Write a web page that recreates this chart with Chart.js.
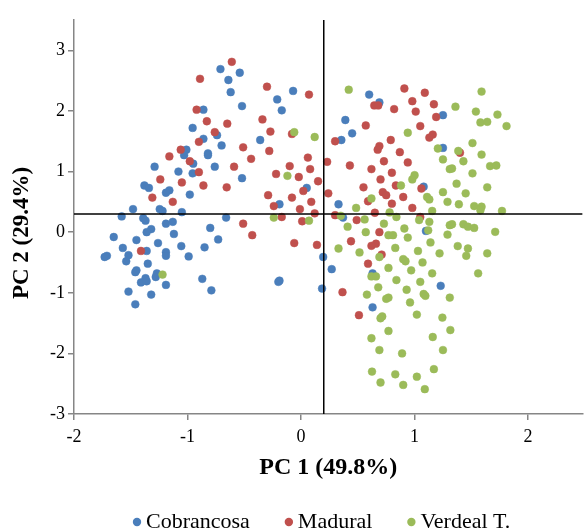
<!DOCTYPE html>
<html><head><meta charset="utf-8">
<script src="https://cdn.jsdelivr.net/npm/chart.js@4/dist/chart.umd.min.js"></script>
<style>html,body{margin:0;padding:0;background:#fff;overflow:hidden}</style>
</head><body>
<canvas id="c" width="587" height="530"></canvas>
<script>
const seriesNames = ['Cobrancosa', 'Madural', 'Verdeal T.'];
const seriesColors = ['#4A7EBB', '#C0504D', '#9BBB59'];
const xTickValues = [-2, -1, 0, 1, 2];
const yTickValues = [-3, -2, -1, 0, 1, 2, 3];
const xAxisTitle = 'PC 1 (49.8%)';
const yAxisTitle = 'PC 2 (29.4%)';
const refLineX = 0.2;
const refLineY = 0.3;

const cobrancosa = [
  [-0.955,1.72],[-1.01,1.36],[-1.03,1.27],[-0.71,2.69],[-0.54,2.63],[-0.64,2.51],[-0.62,2.31],
  [-0.07,2.33],[-0.21,2.19],[-0.17,2.01],[-0.52,2.08],[-0.86,2.02],[-0.74,1.60],[-0.86,1.54],
  [-0.70,1.43],[-0.36,1.52],[-0.82,1.30],[0.60,2.27],[0.69,2.14],[1.25,1.93],[0.39,1.85],
  [0.45,1.63],[0.355,1.52],[1.25,1.39],[-1.29,1.08],[-1.08,1.00],[-0.955,0.97],[-1.38,0.77],
  [-1.34,0.73],[-1.16,0.69],[-1.19,0.65],[-0.98,0.62],[-1.48,0.38],[-1.245,0.38],[-1.22,0.35],
  [-1.05,0.33],[-1.58,0.26],[-1.39,0.23],[-1.37,0.19],[-1.19,0.14],[-1.13,0.17],[-1.32,0.05],
  [-1.36,0.00],[-1.12,-0.03],[-1.65,-0.08],[-1.45,-0.13],[-1.26,-0.18],[-1.055,-0.23],[-1.57,-0.26],
  [-1.36,-0.31],[-1.19,-0.33],[-1.71,-0.39],[-1.73,-0.41],[-1.52,-0.38],[-1.19,-0.39],[-0.99,-0.40],
  [-1.54,-0.48],[-1.35,-0.52],[-1.45,-0.63],[-1.46,-0.66],[-1.27,-0.68],[-1.37,-0.76],[-1.41,-0.83],
  [-1.36,-0.81],[-1.28,-0.74],[-1.19,-0.87],[-1.52,-0.98],[-1.32,-1.03],[-1.46,-1.19],[-0.87,-0.77],
  [-0.79,-0.96],[-0.20,-0.82],[-0.19,-0.80],[0.185,-0.93],[-0.82,1.27],[-0.95,1.13],[-0.76,1.08],
  [-0.52,0.89],[0.05,0.73],[-0.19,0.46],[-0.66,0.24],[-0.80,0.07],[-0.73,-0.12],[-0.85,-0.25],
  [0.195,-0.41],[1.08,0.75],[0.33,0.46],[0.37,0.24],[1.10,0.02],[0.27,-0.61],[0.63,-0.68],
  [0.63,-1.24],[1.23,-0.885]
];
const madural = [
  [-0.92,2.02],[-1.06,1.36],[-1.16,1.25],[-0.61,2.81],[-0.89,2.53],[-0.30,2.40],[0.07,2.27],
  [-0.83,1.83],[-0.65,1.79],[-0.34,1.86],[-0.27,1.66],[-0.76,1.65],[-0.90,1.49],[-0.08,1.62],
  [-0.51,1.40],[-0.28,1.34],[-0.44,1.21],[0.06,1.23],[0.645,2.09],[0.68,2.09],[0.91,2.37],
  [1.09,2.30],[0.98,2.16],[1.17,2.11],[0.82,2.03],[1.01,1.99],[1.19,1.90],[0.57,1.76],
  [1.05,1.75],[0.30,1.50],[1.16,1.61],[1.13,1.56],[0.79,1.52],[0.69,1.42],[0.675,1.36],
  [0.87,1.32],[1.40,1.31],[-0.98,1.17],[-1.24,0.87],[-1.05,0.82],[-1.31,0.57],[-1.13,0.50],
  [-1.41,-0.31],[-0.90,0.99],[-0.59,1.08],[-0.10,1.09],[0.08,1.04],[-0.22,0.96],[-0.02,0.91],
  [0.15,0.84],[-0.86,0.77],[-0.655,0.74],[-0.29,0.61],[0.02,0.68],[-0.08,0.57],[0.09,0.50],
  [-0.24,0.43],[-0.01,0.38],[0.12,0.31],[-0.17,0.25],[0.01,0.18],[-0.51,0.14],[-0.43,-0.05],
  [-0.06,-0.18],[0.14,-0.21],[0.23,1.16],[0.43,1.10],[0.73,1.17],[0.94,1.15],[0.62,1.04],
  [0.80,0.98],[0.70,0.87],[1.06,0.72],[0.835,0.77],[0.55,0.74],[0.72,0.66],[0.75,0.61],
  [0.24,0.64],[0.90,0.58],[0.59,0.51],[0.80,0.47],[0.98,0.40],[0.65,0.32],[0.30,0.28],
  [0.49,0.20],[1.05,0.25],[0.69,0.00],[0.44,-0.15],[0.66,-0.19],[0.62,-0.225],[0.71,-0.37],
  [0.59,-0.52],[0.365,-0.99],[0.51,-1.37]
];
const verdeal = [
  [-0.06,1.65],[0.12,1.57],[0.42,2.35],[0.94,1.64],[1.205,1.38],[1.59,2.32],[1.36,2.07],
  [1.54,1.99],[1.73,1.94],[1.58,1.81],[1.64,1.82],[1.81,1.75],[1.51,1.47],[1.385,1.34],
  [1.59,1.28],[-1.22,-0.70],[-0.12,0.93],[-0.24,0.24],[0.07,0.19],[1.25,1.20],[1.31,1.04],
  [1.00,0.94],[0.98,0.87],[0.88,0.77],[1.25,0.66],[1.11,0.58],[1.13,0.54],[0.62,0.555],
  [1.29,0.50],[0.485,0.40],[1.155,0.35],[0.78,0.325],[0.84,0.25],[0.35,0.27],[0.56,0.21],
  [1.04,0.20],[1.13,0.17],[0.73,0.14],[0.41,0.09],[1.31,0.115],[0.91,0.06],[1.12,0.03],
  [0.57,0.00],[0.77,-0.05],[0.81,-0.05],[0.94,-0.09],[1.29,-0.04],[1.14,-0.17],[0.83,-0.26],
  [0.33,-0.27],[1.03,-0.31],[1.22,-0.35],[0.515,-0.335],[0.69,-0.41],[0.90,-0.445],[0.92,-0.48],
  [1.07,-0.50],[0.77,-0.59],[0.97,-0.63],[1.155,-0.68],[0.62,-0.73],[0.66,-0.73],[0.84,-0.79],
  [1.05,-0.82],[0.68,-0.91],[0.93,-0.95],[0.58,-1.03],[0.75,-1.10],[0.77,-1.08],[1.08,-1.02],
  [1.095,-1.05],[1.31,-1.08],[0.96,-1.16],[0.70,-1.42],[0.715,-1.39],[1.02,-1.36],[1.245,-1.41],
  [0.77,-1.63],[1.315,-1.615],[0.62,-1.75],[1.16,-1.73],[0.69,-1.945],[0.89,-2.00],[1.25,-1.945],
  [0.625,-2.30],[0.83,-2.345],[1.17,-2.26],[0.70,-2.48],[1.02,-2.385],[0.90,-2.52],[1.09,-2.59],
  [1.56,-0.68],[1.43,1.17],[1.33,1.05],[1.665,1.09],[1.72,1.10],[1.51,0.97],[1.37,0.80],
  [1.64,0.74],[1.45,0.64],[1.39,0.46],[1.525,0.43],[1.59,0.42],[1.58,0.36],[1.77,0.35],
  [1.33,0.13],[1.43,0.13],[1.47,0.09],[1.525,0.07],[1.71,0.005],[1.38,-0.23],[1.47,-0.27],
  [1.455,-0.39],[1.64,-0.35]
];

const X_MIN = -2, X_MAX = 2.48, Y_MIN = -3, Y_MAX = 3.5;
const AXIS_GRAY = '#868686';
const SERIF = "'Liberation Serif', 'Times New Roman', serif";

function toPoints(arr) { return arr.map(p => ({x: p[0], y: p[1]})); }

const seriesData = [cobrancosa, madural, verdeal];
const datasets = seriesData.map((arr, i) => ({
  type: 'scatter',
  label: seriesNames[i],
  data: toPoints(arr),
  backgroundColor: seriesColors[i],
  borderColor: seriesColors[i],
  borderWidth: 0.5,
  pointRadius: 3.9,
  pointHoverRadius: 3.9,
  order: 3 - i
}));
datasets.push({
  type: 'scatter', label: '_v', showLine: true,
  data: [{x: refLineX, y: Y_MIN}, {x: refLineX, y: Y_MAX}],
  borderColor: '#000', borderWidth: 1.5, pointRadius: 0, order: 0
});
datasets.push({
  type: 'scatter', label: '_h', showLine: true,
  data: [{x: X_MIN, y: refLineY}, {x: X_MAX, y: refLineY}],
  borderColor: '#000', borderWidth: 1.5, pointRadius: 0, order: 0
});

// legend and rotated y title drawn at fixed spots below / beside the plot
const extrasPlugin = {
  id: 'extras',
  afterDraw(chart) {
    const ctx = chart.ctx;
    ctx.save();
    ctx.translate(22, 233);
    ctx.rotate(-Math.PI / 2);
    ctx.font = `bold 23px ${SERIF}`;
    ctx.fillStyle = '#000';
    ctx.textAlign = 'center';
    ctx.textBaseline = 'middle';
    ctx.fillText(yAxisTitle, 0, 0);
    ctx.restore();

    ctx.save();
    ctx.font = `22px ${SERIF}`;
    ctx.textAlign = 'left';
    ctx.textBaseline = 'middle';
    const y = 522;
    let x = 133;
    seriesNames.forEach((name, i) => {
      ctx.fillStyle = seriesColors[i];
      ctx.beginPath();
      ctx.arc(x + 4, y, 4.2, 0, Math.PI * 2);
      ctx.fill();
      ctx.fillStyle = '#000';
      ctx.fillText(name, x + 13, y);
      x += 13 + ctx.measureText(name).width + 35;
    });
    ctx.restore();
  }
};

new Chart(document.getElementById('c'), {
  data: { datasets },
  plugins: [extrasPlugin],
  options: {
    responsive: false,
    animation: false,
    devicePixelRatio: 1,
    layout: { padding: { top: 20, left: 0, right: 0, bottom: 46 } },
    plugins: {
      tooltip: { enabled: false },
      legend: { display: false }
    },
    scales: {
      x: {
        type: 'linear', min: X_MIN, max: X_MAX,
        afterBuildTicks: s => { s.ticks = xTickValues.map(v => ({value: v})); },
        afterFit: s => { s.height = 70; },
        ticks: { color: '#000', padding: 6, font: { family: SERIF, size: 18 } },
        grid: { drawOnChartArea: false, drawTicks: true, tickLength: 6, color: AXIS_GRAY, lineWidth: 1.5 },
        border: { color: AXIS_GRAY, width: 1.5 },
        title: { display: true, text: xAxisTitle, color: '#000', padding: { top: 4, bottom: 2 }, font: { family: SERIF, size: 24, weight: 'bold' } }
      },
      y: {
        type: 'linear', min: Y_MIN, max: Y_MAX,
        afterBuildTicks: s => { s.ticks = yTickValues.map(v => ({value: v})); },
        afterFit: s => { s.width = 74; },
        ticks: { color: '#000', padding: 3, font: { family: SERIF, size: 18 } },
        grid: { drawOnChartArea: false, drawTicks: true, tickLength: 6, color: AXIS_GRAY, lineWidth: 1.5 },
        border: { color: AXIS_GRAY, width: 1.5 },
        title: { display: false }
      }
    }
  }
});
</script>
</body></html>
